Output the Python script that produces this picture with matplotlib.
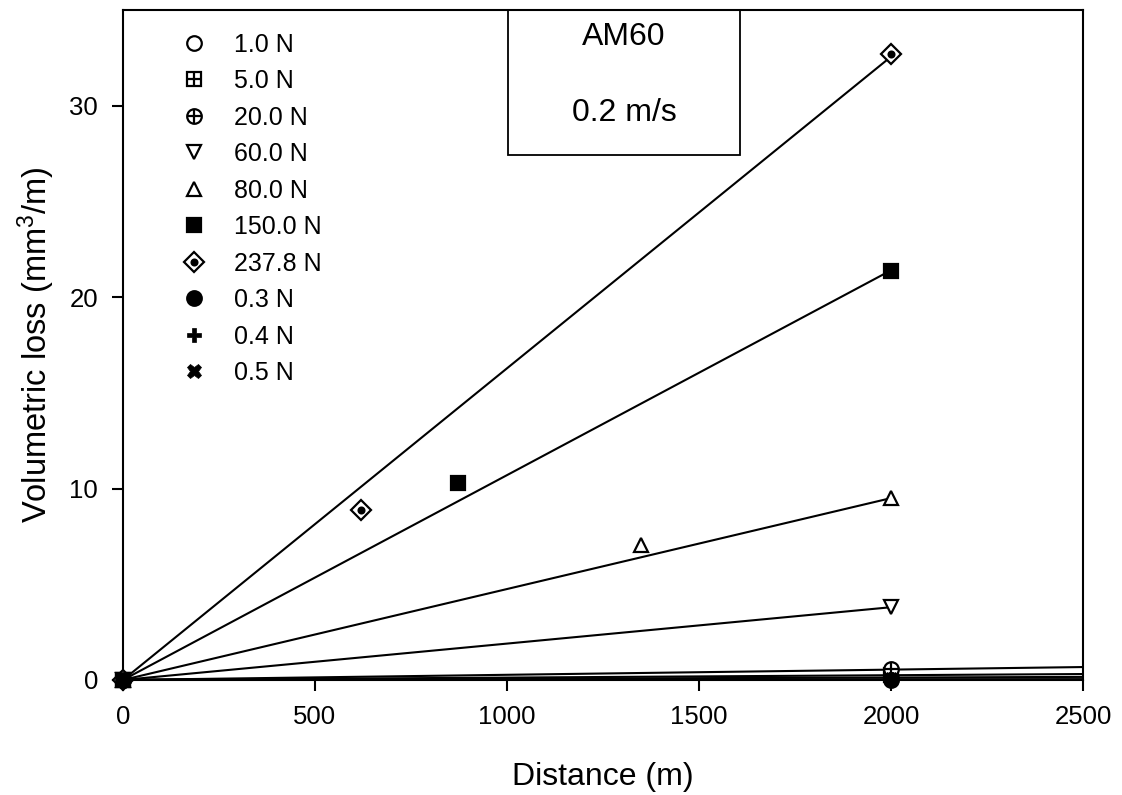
import matplotlib
matplotlib.use("Agg")
import matplotlib.pyplot as plt
from matplotlib.patches import Rectangle
import numpy as np

plt.rcParams["font.family"] = ["Liberation Sans", "DejaVu Sans"]
plt.rcParams["mathtext.fontset"] = "custom"
plt.rcParams["mathtext.rm"] = "Liberation Sans"
plt.rcParams["mathtext.default"] = "rm"

# measured points: (distance m, volumetric loss mm3/m)
labels = ["1.0 N", "5.0 N", "20.0 N", "60.0 N", "80.0 N",
          "150.0 N", "237.8 N", "0.3 N", "0.4 N", "0.5 N"]
dist = {
    "1.0 N": [0, 2000],
    "5.0 N": [0, 2000],
    "20.0 N": [0, 2000],
    "60.0 N": [0, 2000],
    "80.0 N": [0, 1350, 2000],
    "150.0 N": [0, 872, 2000],
    "237.8 N": [0, 620, 2000],
    "0.3 N": [0, 2000],
    "0.4 N": [0, 2000],
    "0.5 N": [0, 2000],
}
loss = {
    "1.0 N": [0, 0.12],
    "5.0 N": [0, 0.28],
    "20.0 N": [0, 0.58],
    "60.0 N": [0, 3.8],
    "80.0 N": [0, 7.05, 9.5],
    "150.0 N": [0, 10.3, 21.35],
    "237.8 N": [0, 8.9, 32.7],
    "0.3 N": [0, 0.02],
    "0.4 N": [0, 0.03],
    "0.5 N": [0, 0.04],
}
# fitted wear-rate lines through origin: slope and end of line
fit_slope = {
    "1.0 N": 0.000064, "5.0 N": 0.000124, "20.0 N": 0.00027,
    "60.0 N": 0.0019, "80.0 N": 0.00475, "150.0 N": 0.0107,
    "237.8 N": 0.01628, "0.3 N": 0.000008, "0.4 N": 0.000010,
    "0.5 N": 0.000012,
}
fit_end = {
    "1.0 N": 2500, "5.0 N": 2500, "20.0 N": 2500, "60.0 N": 2000,
    "80.0 N": 2000, "150.0 N": 2000, "237.8 N": 2000, "0.3 N": 2500,
    "0.4 N": 2500, "0.5 N": 2500,
}

ms = 10.5
mew = 1.6
# list of marker layers per series
styles = {
    "1.0 N": [dict(marker="o", mfc="white")],
    "5.0 N": [dict(marker="s", mfc="white"), dict(marker="+", ms=ms * 0.95)],
    "20.0 N": [dict(marker="o", mfc="white"), dict(marker="+", ms=ms * 0.95)],
    "60.0 N": [dict(marker="v", mfc="white")],
    "80.0 N": [dict(marker="^", mfc="white")],
    "150.0 N": [dict(marker="s", mfc="black")],
    "237.8 N": [dict(marker="D", mfc="white", ms=ms * 0.95),
                dict(marker="o", mfc="black", ms=ms * 0.4)],
    "0.3 N": [dict(marker="o", mfc="black")],
    "0.4 N": [dict(marker="P", mfc="black", mew=0.5)],
    "0.5 N": [dict(marker="X", mfc="black", mew=0.5)],
}

fig = plt.figure(figsize=(11.22, 7.95), dpi=100)
ax = fig.add_axes([0.1096, 0.1447, 0.8556, 0.8427])

for lab in labels:
    xx = np.array([0, fit_end[lab]])
    ax.plot(xx, fit_slope[lab] * xx, color="black", lw=1.5, zorder=2)

handles = []
for lab in labels:
    layers = []
    for st in styles[lab]:
        kw = dict(ms=ms, mec="black", mew=mew, ls="none")
        kw.update(st)
        (h,) = ax.plot(dist[lab], loss[lab], clip_on=False, zorder=3, **kw)
        layers.append(h)
    handles.append(tuple(layers))

ax.set_xlim(0, 2500)
ax.set_ylim(0, 35)
ax.set_xticks([0, 500, 1000, 1500, 2000, 2500])
ax.set_yticks([0, 10, 20, 30])
ax.tick_params(direction="out", length=8, width=1.5, labelsize=18.5, pad=10)
for s in ax.spines.values():
    s.set_linewidth(1.5)

ax.set_xlabel("Distance (m)", fontsize=23, labelpad=24)
ax.set_ylabel("Volumetric loss (mm$^3$/m)", fontsize=23.5, labelpad=9)

leg = ax.legend(handles, labels, loc="upper left", bbox_to_anchor=(0.031, 1.0),
                frameon=False, fontsize=18, labelspacing=0.5,
                handletextpad=0.85, handlelength=1.5)

ax.add_patch(Rectangle((0.401, 0.7836), 0.242, 0.2164, transform=ax.transAxes,
                       fill=False, ec="black", lw=1.3, zorder=4))
ax.text(0.522, 0.959, "AM60", transform=ax.transAxes, ha="center", va="center",
        fontsize=23)
ax.text(0.522, 0.847, "0.2 m/s", transform=ax.transAxes, ha="center", va="center",
        fontsize=23)

fig.savefig("out.png", dpi=100)
